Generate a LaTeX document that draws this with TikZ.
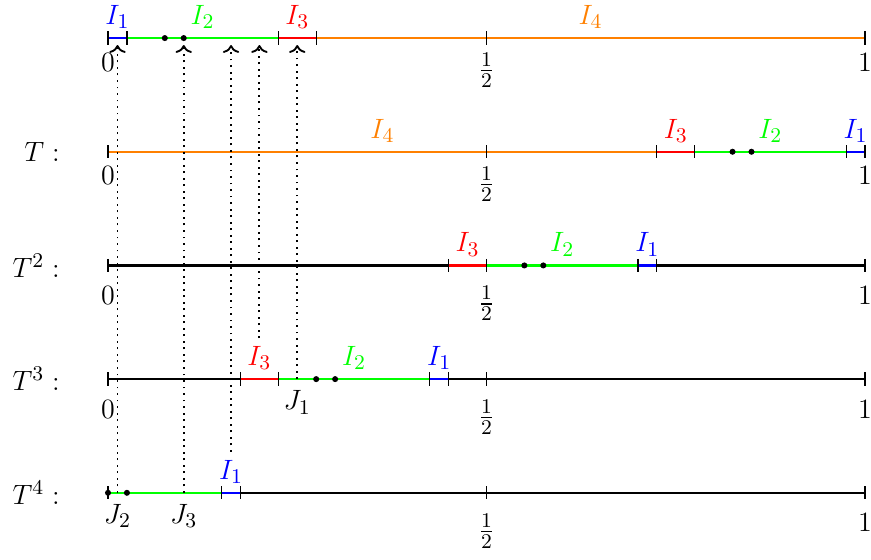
\documentclass[tikz,border=0pt]{standalone}
\usepackage{amsmath}
\usetikzlibrary{arrows.meta}
\definecolor{clrOne}  {HTML}{0000FF}
\definecolor{clrTwo}  {HTML}{00FF00}
\definecolor{clrThree}{HTML}{FF0000}
\definecolor{clrFour} {HTML}{FF8000}
\tikzset{
  lblfont/.style  = {font=\fontsize{12.6}{15}\selectfont},
  seg/.style      = {line width=1pt},
  tickmark/.style = {line width=0.5pt},
  ilbl/.style     = {above=0.5pt, lblfont},
  vlbl/.style     = {below=3pt, lblfont},
  vlbllow/.style  = {below=5.5pt, lblfont},
  jlbl/.style     = {below=1.5pt, lblfont},
  rowlbl/.style   = {anchor=east, lblfont},
  dotpt/.style    = {fill=black},
  % dotted back-arrow to the first line
  preimg/.style   = {->, thick, dotted, shorten >=3pt},
}

\begin{document}
\begin{tikzpicture}[x=11.42cm, y=1.715cm]
\useasboundingbox (-0.1427,0.335) rectangle (1.0079,-4.590);

% ══════════════════════════════════════════════════════════════════════════
%  ROW 0 — the partition I1..I4
% ══════════════════════════════════════════════════════════════════════════

\draw[seg, clrOne]   (0,    0) -- (0.025,0);
\draw[seg, clrTwo]   (0.025,0) -- (0.225,0);
\draw[seg, clrThree] (0.225,0) -- (0.275,0);
\draw[seg, clrFour]  (0.275,0) -- (1,    0);
\fill[dotpt] (0.075,0) circle (1.3pt);
\fill[dotpt] (0.1,  0) circle (1.3pt);
\foreach \x in {0,0.025,0.225,0.275,0.5,1}
  \draw[tickmark] (\x,0) ++(0,0.1cm) -- ++(0,-0.2cm);

\node[ilbl, text=clrOne]   (aI1) at (0.0125,0) {$I_1$};
\node[ilbl, text=clrTwo]   (aI2) at (0.125, 0) {$I_2$};
\node[ilbl, text=clrThree] (aI3) at (0.25,  0) {$I_3$};
\node[ilbl, text=clrFour]  (aI4) at (0.6375,0) {$I_4$};
\node[vlbl] (aZ) at (0,  0) {$0$};
\node[vlbl] (aH) at (0.5,0) {$\frac{1}{2}$};
\node[vlbl] (aO) at (1,  0) {$1$};

% targets on the first line
\coordinate (q1) at (0.0125,0);
\coordinate (q2) at (0.1,   0);
\coordinate (q3) at (0.1625,0);
\coordinate (q4) at (0.2,   0);
\coordinate (q5) at (0.25,  0);

% ══════════════════════════════════════════════════════════════════════════
%  ROW 1 — T
% ══════════════════════════════════════════════════════════════════════════

\node[rowlbl] (tT1) at (-0.053,-1) {$T:$};
\draw[seg, clrFour]  (0,    -1) -- (0.725,-1);
\draw[seg, clrThree] (0.725,-1) -- (0.775,-1);
\draw[seg, clrTwo]   (0.775,-1) -- (0.975,-1);
\draw[seg, clrOne]   (0.975,-1) -- (1,    -1);
\fill[dotpt] (0.825,-1) circle (1.3pt);
\fill[dotpt] (0.85, -1) circle (1.3pt);
\foreach \x in {0,0.5,0.725,0.775,0.975,1}
  \draw[tickmark] (\x,-1) ++(0,0.1cm) -- ++(0,-0.2cm);

\node[ilbl, text=clrFour]  (bI4) at (0.3625,-1) {$I_4$};
\node[ilbl, text=clrThree] (bI3) at (0.75,  -1) {$I_3$};
\node[ilbl, text=clrTwo]   (bI2) at (0.875, -1) {$I_2$};
\node[ilbl, text=clrOne]   (bI1) at (0.9875,-1) {$I_1$};
\node[vlbl] (bZ) at (0,  -1) {$0$};
\node[vlbl] (bH) at (0.5,-1) {$\frac{1}{2}$};
\node[vlbl] (bO) at (1,  -1) {$1$};

% ══════════════════════════════════════════════════════════════════════════
%  ROW 2 — T^2
% ══════════════════════════════════════════════════════════════════════════

\node[rowlbl] (tT2) at (-0.053,-2) {$T^2:$};
\draw[seg] (0,-2) -- (1,-2);
\draw[seg, clrThree] (0.45,-2) -- (0.5,  -2);
\draw[seg, clrTwo]   (0.5, -2) -- (0.7,  -2);
\draw[seg, clrOne]   (0.7, -2) -- (0.725,-2);
\fill[dotpt] (0.55, -2) circle (1.3pt);
\fill[dotpt] (0.575,-2) circle (1.3pt);
\foreach \x in {0,0.45,0.5,0.7,0.725,1}
  \draw[tickmark] (\x,-2) ++(0,0.1cm) -- ++(0,-0.2cm);

\node[ilbl, text=clrThree] (cI3) at (0.475, -2) {$I_3$};
\node[ilbl, text=clrTwo]   (cI2) at (0.6,   -2) {$I_2$};
\node[ilbl, text=clrOne]   (cI1) at (0.7125,-2) {$I_1$};
\node[vlbllow] (cZ) at (0,  -2) {$0$};
\node[vlbllow] (cH) at (0.5,-2) {$\frac{1}{2}$};
\node[vlbllow] (cO) at (1,  -2) {$1$};

% ══════════════════════════════════════════════════════════════════════════
%  ROW 3 — T^3
% ══════════════════════════════════════════════════════════════════════════

\node[rowlbl] (tT3) at (-0.053,-3) {$T^3:$};
\draw[seg] (0,-3) -- (1,-3);
\draw[seg, clrThree] (0.175,-3) -- (0.225,-3);
\draw[seg, clrTwo]   (0.225,-3) -- (0.425,-3);
\draw[seg, clrOne]   (0.425,-3) -- (0.45, -3);
\fill[dotpt] (0.275,-3) circle (1.3pt);
\fill[dotpt] (0.3,  -3) circle (1.3pt);
\foreach \x in {0,0.175,0.225,0.425,0.45,0.5,1}
  \draw[tickmark] (\x,-3) ++(0,0.1cm) -- ++(0,-0.2cm);

\node[ilbl, text=clrThree] (dI3) at (0.2,   -3) {$I_3$};
\node[ilbl, text=clrTwo]   (dI2) at (0.325, -3) {$I_2$};
\node[ilbl, text=clrOne]   (dI1) at (0.4375,-3) {$I_1$};
\coordinate (s5) at (0.25,-3);
\node[jlbl] (J1) at (s5) {$J_1$};
\node[vlbllow] (dZ) at (0,  -3) {$0$};
\node[vlbllow] (dH) at (0.5,-3) {$\frac{1}{2}$};
\node[vlbllow] (dO) at (1,  -3) {$1$};

% ══════════════════════════════════════════════════════════════════════════
%  ROW 4 — T^4
% ══════════════════════════════════════════════════════════════════════════

\node[rowlbl] (tT4) at (-0.053,-4) {$T^4:$};
\draw[seg] (0,-4) -- (1,-4);
\draw[seg, clrTwo] (0,   -4) -- (0.15, -4);
\draw[seg, clrOne] (0.15,-4) -- (0.175,-4);
\fill[dotpt] (0,    -4) circle (1.3pt);
\fill[dotpt] (0.025,-4) circle (1.3pt);
\foreach \x in {0,0.15,0.175,0.5,1}
  \draw[tickmark] (\x,-4) ++(0,0.1cm) -- ++(0,-0.2cm);

\node[ilbl, text=clrOne] (eI1) at (0.1625,-4) {$I_1$};
\coordinate (s1) at (0.0125,-4);
\coordinate (s2) at (0.1,   -4);
\node[jlbl] (J2) at (s1) {$J_2$};
\node[jlbl] (J3) at (s2) {$J_3$};
\node[vlbllow] (eH) at (0.5,-4) {$\frac{1}{2}$};
\node[vlbllow] (eO) at (1,  -4) {$1$};

% ══════════════════════════════════════════════════════════════════════════
%  Arrows back to the first line
% ══════════════════════════════════════════════════════════════════════════

\draw[preimg] (s1)        -- (q1);
\draw[preimg] (s2)        -- (q2);
\draw[preimg] (eI1.north) -- (q3);
\draw[preimg] (dI3.north) -- (q4);
\draw[preimg] (s5)        -- (q5);

\end{tikzpicture}
\end{document}
